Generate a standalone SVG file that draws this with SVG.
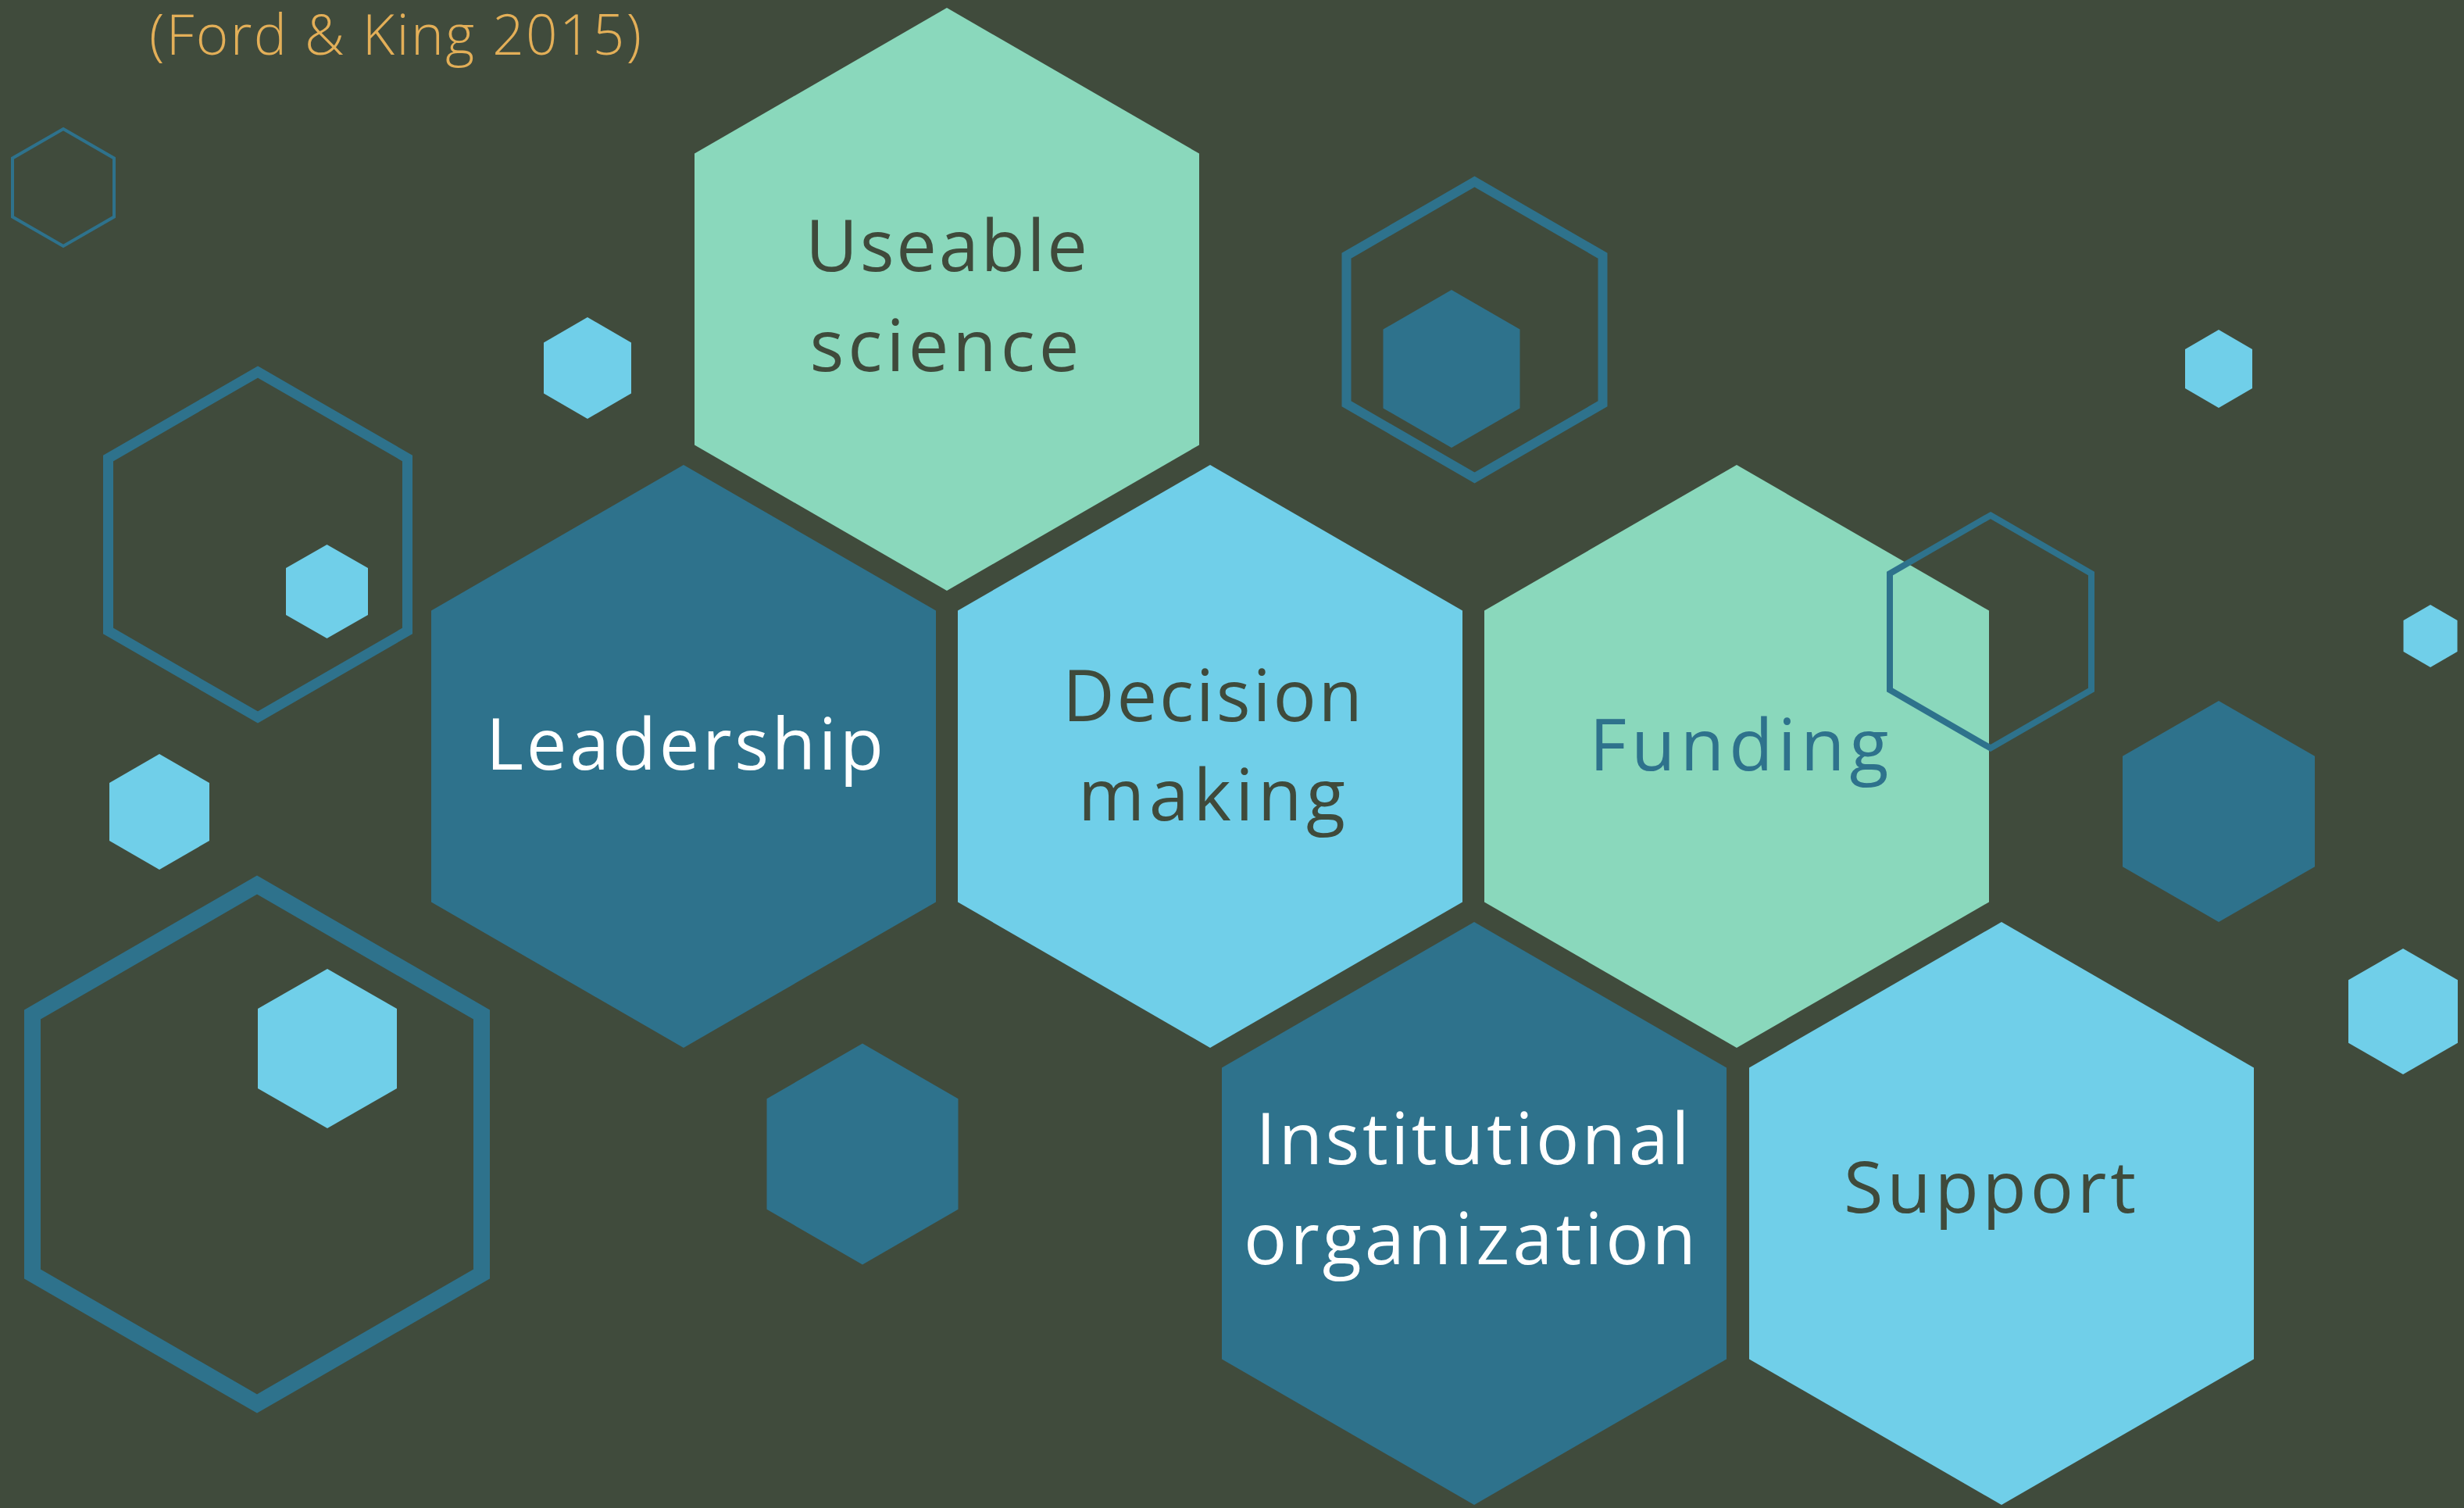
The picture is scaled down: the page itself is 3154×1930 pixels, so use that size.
<svg xmlns="http://www.w3.org/2000/svg" width="3154" height="1930" viewBox="0 0 3154 1930">
<style>
.bg{fill:#404B3C}
.mint{fill:#8AD8BC}
.lb{fill:#70CFE9}
.db{fill:#2E728C}
.ol{fill:none;stroke:#2E728C;stroke-linejoin:miter}
.lbl{font-family:"Open Sans","Liberation Sans",sans-serif;font-weight:400;font-size:92px;text-anchor:middle}
.dark{fill:#3F4A3B}
.white{fill:#FFFFFF}
.blue{fill:#2E728C}
.cite{font-family:"Open Sans","Liberation Sans",sans-serif;font-weight:300;font-size:71px;fill:#E3AF58}
</style>
<rect class="bg" x="0" y="0" width="3154" height="1930"/>
<g id="decor">
<polygon class="ol" stroke-width="4" points="81,165 146,202.5 146,277.5 81,315 16,277.5 16,202.5"/>
<polygon class="lb" points="752,406 808,438.5 808,503.5 752,536 696,503.5 696,438.5"/>
<polygon class="ol" stroke-width="13" points="330,476 521.5,586.5 521.5,807.5 330,918 138.5,807.5 138.5,586.5"/>
<polygon class="lb" points="418.5,697 471,727 471,787 418.5,817 366,787 366,727"/>
<polygon class="lb" points="204,965 268,1002 268,1076 204,1113 140,1076 140,1002"/>
<polygon class="ol" stroke-width="21" points="329,1132.5 616.5,1298.5 616.5,1630.5 329,1796.5 41.5,1630.5 41.5,1298.5"/>
<polygon class="lb" points="419,1240 508,1291 508,1393 419,1444 330,1393 330,1291"/>
<polygon class="db" points="1104,1335.5 1226.5,1406.25 1226.5,1547.75 1104,1618.5 981.5,1547.75 981.5,1406.25"/>
<polygon class="ol" stroke-width="12" points="1887.5,232.5 2051.5,327.25 2051.5,516.75 1887.5,611.5 1723.5,516.75 1723.5,327.25"/>
<polygon class="db" points="1858,371 1945.5,421.5 1945.5,522.5 1858,573 1770.5,522.5 1770.5,421.5"/>
<polygon class="lb" points="2840,422 2883,447 2883,497 2840,522 2797,497 2797,447"/>
<polygon class="lb" points="3111,774 3145.5,794 3145.5,834 3111,854 3076.5,834 3076.5,794"/>
<polygon class="db" points="2840,897 2963,967.75 2963,1109.25 2840,1180 2717,1109.25 2717,967.75"/>
<polygon class="lb" points="3076,1214 3146,1254.25 3146,1334.75 3076,1375 3006,1334.75 3006,1254.25"/>
</g>
<g id="useable-science">
<polygon class="mint" points="1212,10 1535,196.5 1535,569.5 1212,756 889,569.5 889,196.5"/>
<text class="lbl dark" x="1211.5" y="347" textLength="361" lengthAdjust="spacing">Useable</text>
<text class="lbl dark" x="1209" y="475" textLength="345" lengthAdjust="spacing">science</text>
</g>
<g id="leadership">
<polygon class="db" points="875,595 1198,781.5 1198,1154.5 875,1341 552,1154.5 552,781.5"/>
<text class="lbl white" x="876.5" y="985" textLength="509" lengthAdjust="spacing">Leadership</text>
</g>
<g id="decision-making">
<polygon class="lb" points="1549,595 1872,781.5 1872,1154.5 1549,1341 1226,1154.5 1226,781.5"/>
<text class="lbl dark" x="1552" y="923" textLength="384" lengthAdjust="spacing">Decision</text>
<text class="lbl dark" x="1551" y="1050" textLength="342" lengthAdjust="spacing">making</text>
</g>
<g id="funding">
<polygon class="mint" points="2223,595 2546,781.5 2546,1154.5 2223,1341 1900,1154.5 1900,781.5"/>
<text class="lbl blue" x="2226" y="986" textLength="383" lengthAdjust="spacing">Funding</text>
</g>
<g id="institutional-organization">
<polygon class="db" points="1887,1180 2210,1366.5 2210,1739.5 1887,1926 1564,1739.5 1564,1366.5"/>
<text class="lbl white" x="1885" y="1490" textLength="555" lengthAdjust="spacing">Institutional</text>
<text class="lbl white" x="1881.5" y="1618" textLength="579" lengthAdjust="spacing">organization</text>
</g>
<g id="support">
<polygon class="lb" points="2562,1180 2885,1366.5 2885,1739.5 2562,1926 2239,1739.5 2239,1366.5"/>
<text class="lbl dark" x="2547" y="1552" textLength="374" lengthAdjust="spacing">Support</text>
</g>
<g id="decor-front">
<polygon class="ol" stroke-width="8" points="2548,659.5 2677,734 2677,883 2548,957.5 2419,883 2419,734"/>
</g>
<g id="citation">
<text class="cite" x="191" y="70" textLength="630" lengthAdjust="spacing">(Ford &amp; King 2015)</text>
</g>
<g id="connectors"/>
</svg>
